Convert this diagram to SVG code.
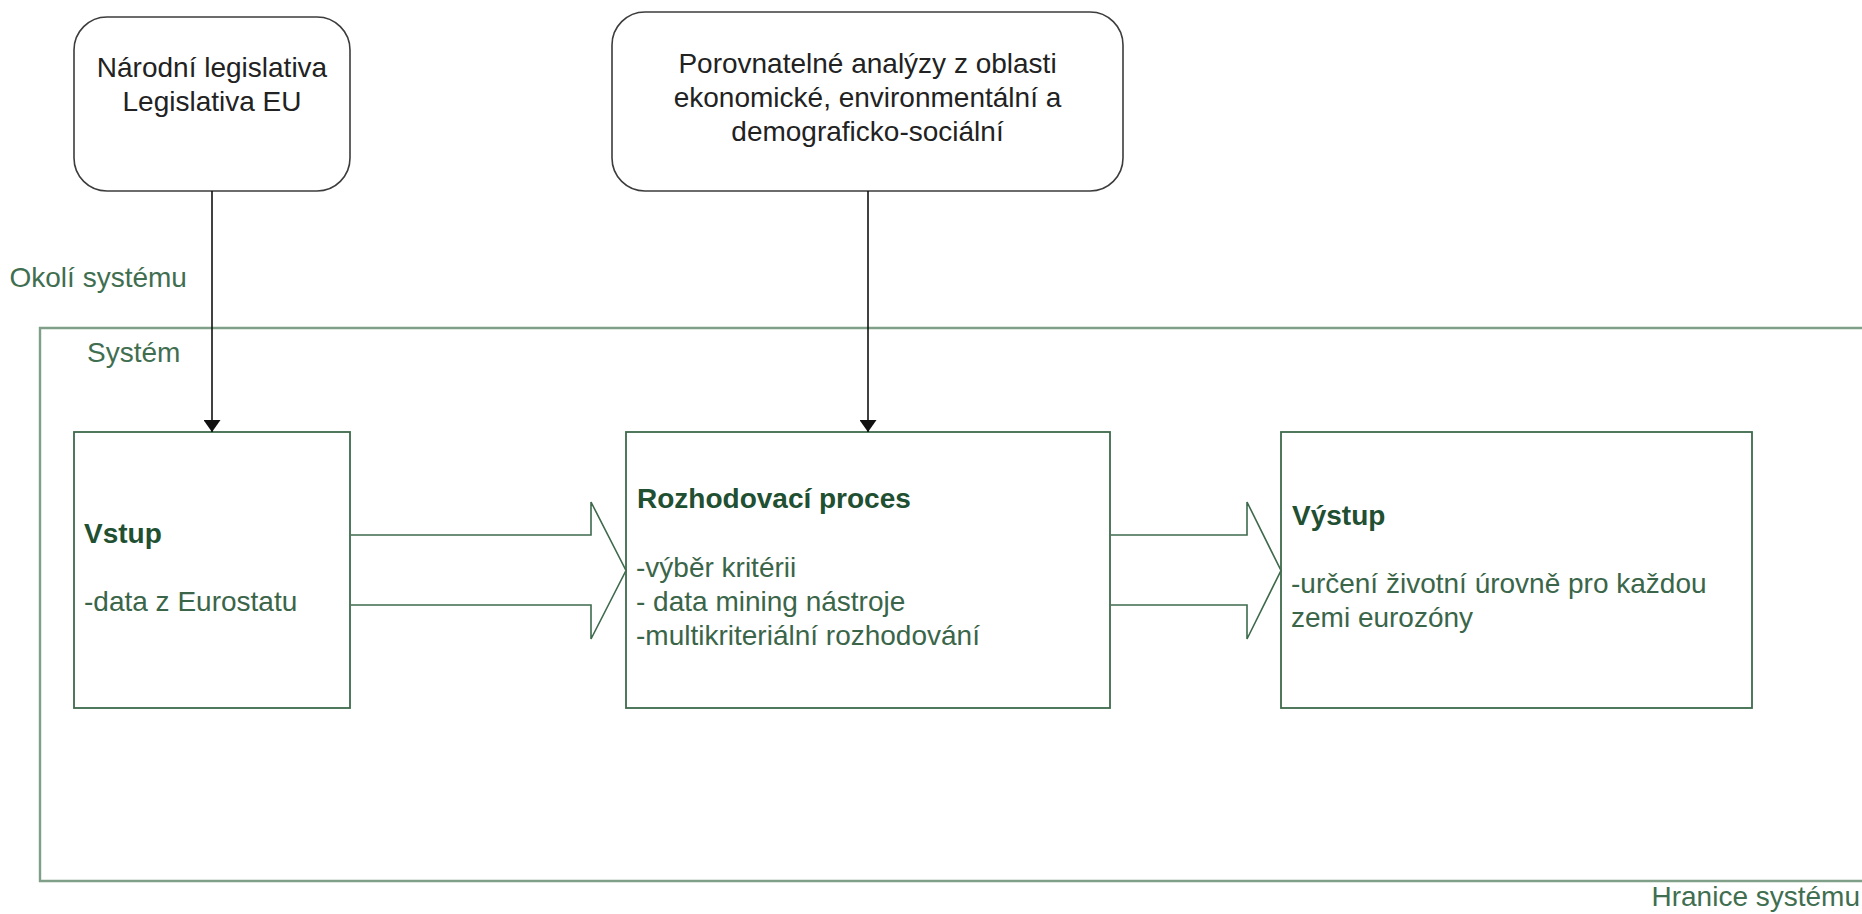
<svg xmlns="http://www.w3.org/2000/svg" width="1862" height="914" viewBox="0 0 1862 914">
  <defs>
    <marker id="arrowhead" viewBox="0 0 12 17" refX="12" refY="8.5" markerWidth="12" markerHeight="17" markerUnits="userSpaceOnUse" orient="auto">
      <path d="M0,0 L12,8.5 L0,17 Z" fill="#111"/>
    </marker>
    <style>
      text { font-family: "Liberation Sans", Arial, sans-serif; font-size: 28px; }
      .env { fill: #ffffff; stroke: #3c3c3c; stroke-width: 1.6; }
      .envtext { fill: #222222; text-anchor: middle; }
      .block { fill: #ffffff; stroke: #3e6a4c; stroke-width: 1.8; }
      .head { fill: #214f31; font-weight: bold; }
      .body { fill: #3a6549; }
      .label { fill: #3f6e50; }
      .boundary { fill: none; stroke: #7f9f89; stroke-width: 2.4; }
      .flow { fill: none; stroke: #111; stroke-width: 1.6; }
      .bigarrow { fill: #ffffff; stroke: #3e6a4c; stroke-width: 1.6; }
    </style>
  </defs>

  <rect width="1862" height="914" fill="#ffffff"/>

  <!-- system boundary, open to the right -->
  <g id="boundary">
    <path class="boundary" d="M1862,328 H40 V881 H1862"/>
    <text class="label" x="9.5" y="287">Okolí systému</text>
    <text class="label" x="87" y="362">Systém</text>
    <text class="label" x="1860" y="906" text-anchor="end">Hranice systému</text>
  </g>

  <!-- environment sources -->
  <g id="legislation">
    <rect class="env" x="74" y="17" width="276" height="174" rx="33" ry="33"/>
    <text class="envtext" x="212" y="77">Národní legislativa</text>
    <text class="envtext" x="212" y="111">Legislativa EU</text>
  </g>

  <g id="analyses">
    <rect class="env" x="612" y="12" width="511" height="179" rx="33" ry="33"/>
    <text class="envtext" x="867.5" y="73">Porovnatelné analýzy z oblasti</text>
    <text class="envtext" x="867.5" y="107">ekonomické, environmentální a</text>
    <text class="envtext" x="867.5" y="141">demograficko-sociální</text>
  </g>

  <!-- system blocks -->
  <g id="input">
    <rect class="block" x="74" y="432" width="276" height="276"/>
    <text class="head" x="84" y="543">Vstup</text>
    <text class="body" x="84" y="611">-data z Eurostatu</text>
  </g>

  <g id="process">
    <rect class="block" x="626" y="432" width="484" height="276"/>
    <text class="head" x="637" y="508">Rozhodovací proces</text>
    <text class="body" x="636" y="577">-výběr kritérii</text>
    <text class="body" x="636" y="611">- data mining nástroje</text>
    <text class="body" x="636" y="645">-multikriteriální rozhodování</text>
  </g>

  <g id="output">
    <rect class="block" x="1281" y="432" width="471" height="276"/>
    <text class="head" x="1292" y="525">Výstup</text>
    <text class="body" x="1291" y="593">-určení životní úrovně pro každou</text>
    <text class="body" x="1291" y="627">zemi eurozóny</text>
  </g>

  <!-- connectors -->
  <g id="connectors">
    <line class="flow" x1="212" y1="191" x2="212" y2="432" marker-end="url(#arrowhead)"/>
    <line class="flow" x1="868" y1="191" x2="868" y2="432" marker-end="url(#arrowhead)"/>
    <path class="bigarrow" d="M351,535 H591 V502 L626,570.5 L591,639 V605 H351"/>
    <path class="bigarrow" d="M1111,535 H1247 V502 L1281,570.5 L1247,639 V605 H1111"/>
  </g>
</svg>
